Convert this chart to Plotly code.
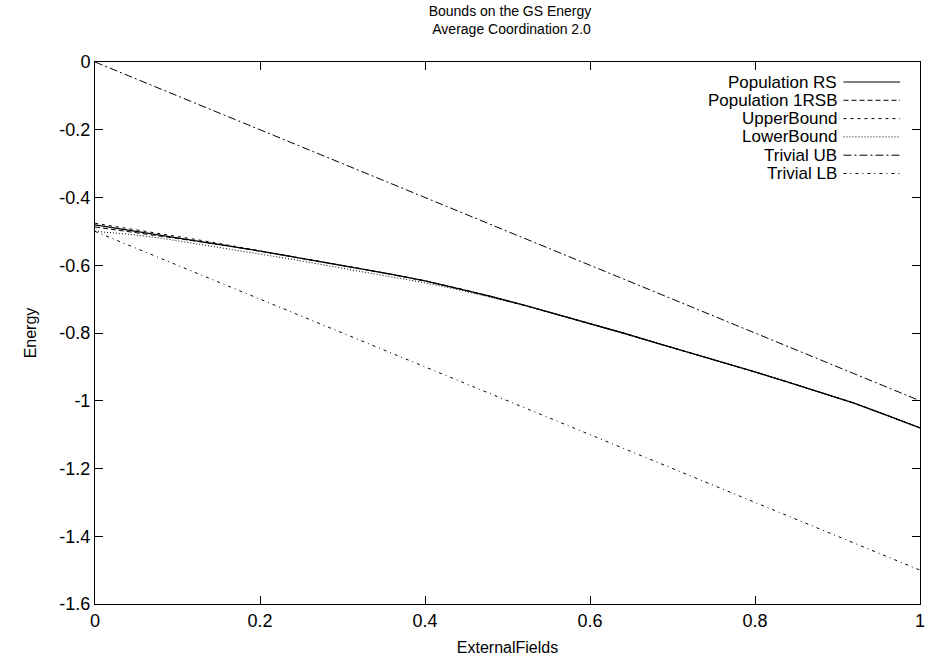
import plotly.graph_objects as go

# ---------------- data ----------------
fields = [0.00, 0.04, 0.08, 0.12, 0.16, 0.20, 0.24, 0.28, 0.32, 0.36, 0.40, 0.44, 0.48,
          0.52, 0.56, 0.60, 0.64, 0.68, 0.72, 0.76, 0.80, 0.84, 0.88, 0.92, 0.96, 1.00]

pop_rs = [-0.481, -0.496, -0.511, -0.527, -0.542, -0.558, -0.575, -0.592, -0.609, -0.627,
          -0.646, -0.668, -0.692, -0.718, -0.745, -0.772, -0.800, -0.829, -0.857, -0.886,
          -0.915, -0.945, -0.975, -1.007, -1.043, -1.080]

pop_1rsb = [-0.487, -0.500, -0.514, -0.528, -0.542, -0.558, -0.575, -0.592, -0.609, -0.627,
            -0.646, -0.668, -0.692, -0.718, -0.745, -0.772, -0.800, -0.829, -0.857, -0.886,
            -0.915, -0.945, -0.975, -1.007, -1.043, -1.080]

upper_bound = [-0.476, -0.491, -0.507, -0.523, -0.540, -0.557, -0.575, -0.592, -0.609, -0.627,
               -0.646, -0.668, -0.692, -0.718, -0.745, -0.772, -0.800, -0.829, -0.857, -0.886,
               -0.915, -0.945, -0.975, -1.007, -1.043, -1.080]

lower_bound = [-0.500, -0.508, -0.520, -0.535, -0.551, -0.567, -0.583, -0.600, -0.616, -0.633,
               -0.652, -0.672, -0.694, -0.718, -0.745, -0.772, -0.800, -0.829, -0.857, -0.886,
               -0.915, -0.945, -0.975, -1.007, -1.043, -1.080]

trivial_x = [0.0, 1.0]
trivial_ub = [0.0, -1.0]
trivial_lb = [-0.5, -1.5]

series_names = ["Population RS", "Population 1RSB", "UpperBound", "LowerBound",
                "Trivial UB", "Trivial LB"]

x_tick_vals = [0, 0.2, 0.4, 0.6, 0.8, 1]
x_tick_text = ["0", "0.2", "0.4", "0.6", "0.8", "1"]
y_tick_vals = [0, -0.2, -0.4, -0.6, -0.8, -1, -1.2, -1.4, -1.6]
y_tick_text = ["0", "-0.2", "-0.4", "-0.6", "-0.8", "-1", "-1.2", "-1.4", "-1.6"]

# ---------------- styles ----------------
dashes = ["solid", "5px,3px", "3px,4px", "1px,2px", "8px,3px,2px,3px", "3px,4px,1px,4px"]
widths = [1.3, 1, 1, 1, 1, 1]
FONT = "Liberation Sans, Arial, Helvetica, sans-serif"
TICK_SIZE = 18
KEY_SIZE = 17
TITLE_SIZE = 14

xs = [fields, fields, fields, fields, trivial_x, trivial_x]
ys = [pop_rs, pop_1rsb, upper_bound, lower_bound, trivial_ub, trivial_lb]

fig = go.Figure()
for name, x, y, d, w in zip(series_names, xs, ys, dashes, widths):
    fig.add_trace(go.Scatter(x=x, y=y, mode="lines", name=name,
                             line=dict(color="black", width=w, dash=d),
                             showlegend=False))

# gnuplot-style key: text on the left, sample on the right
L, R, T, B = 95, 8, 62, 60
W, H = 933, 664
pw, ph = W - L - R, H - T - B
row0, step = 82, 18.3
for i, (name, d) in enumerate(zip(series_names, dashes)):
    ypix = row0 + i * step
    yp = (H - B - ypix) / ph
    fig.add_annotation(x=(842 - L) / pw, y=yp, xref="paper", yref="paper",
                       text=name, showarrow=False, xanchor="right", yanchor="middle",
                       borderpad=0,
                       font=dict(family=FONT, size=KEY_SIZE, color="black"))
    fig.add_shape(type="line", xref="paper", yref="paper",
                  x0=(848 - L) / pw, x1=(905 - L) / pw, y0=yp, y1=yp,
                  line=dict(color="black", width=1, dash=d))

axis_common = dict(showgrid=False, zeroline=False, showline=True, linecolor="black",
                   linewidth=1, mirror="ticks", ticks="inside", ticklen=8,
                   tickcolor="black", tickwidth=1,
                   tickfont=dict(family=FONT, size=TICK_SIZE, color="black"))

fig.update_layout(
    width=W, height=H,
    margin=dict(l=L, r=R, t=T, b=B),
    paper_bgcolor="white", plot_bgcolor="white",
    font=dict(family=FONT, size=16, color="black"),
    title=dict(text="Bounds on the GS Energy<br> Average Coordination 2.0",
               x=(L + pw / 2) / W, xanchor="center", y=1 - 16 / H, yanchor="top",
               font=dict(family=FONT, size=TITLE_SIZE, color="black")),
    xaxis=dict(range=[0, 1], tickvals=x_tick_vals, ticktext=x_tick_text,
               title=dict(text="ExternalFields", standoff=12,
                          font=dict(family=FONT, size=16, color="black")),
               **axis_common),
    yaxis=dict(range=[-1.6, 0], tickvals=y_tick_vals, ticktext=y_tick_text,
               title=dict(text="Energy", standoff=18,
                          font=dict(family=FONT, size=16, color="black")),
               **axis_common),
    showlegend=False,
)

fig.write_html("out.html")
